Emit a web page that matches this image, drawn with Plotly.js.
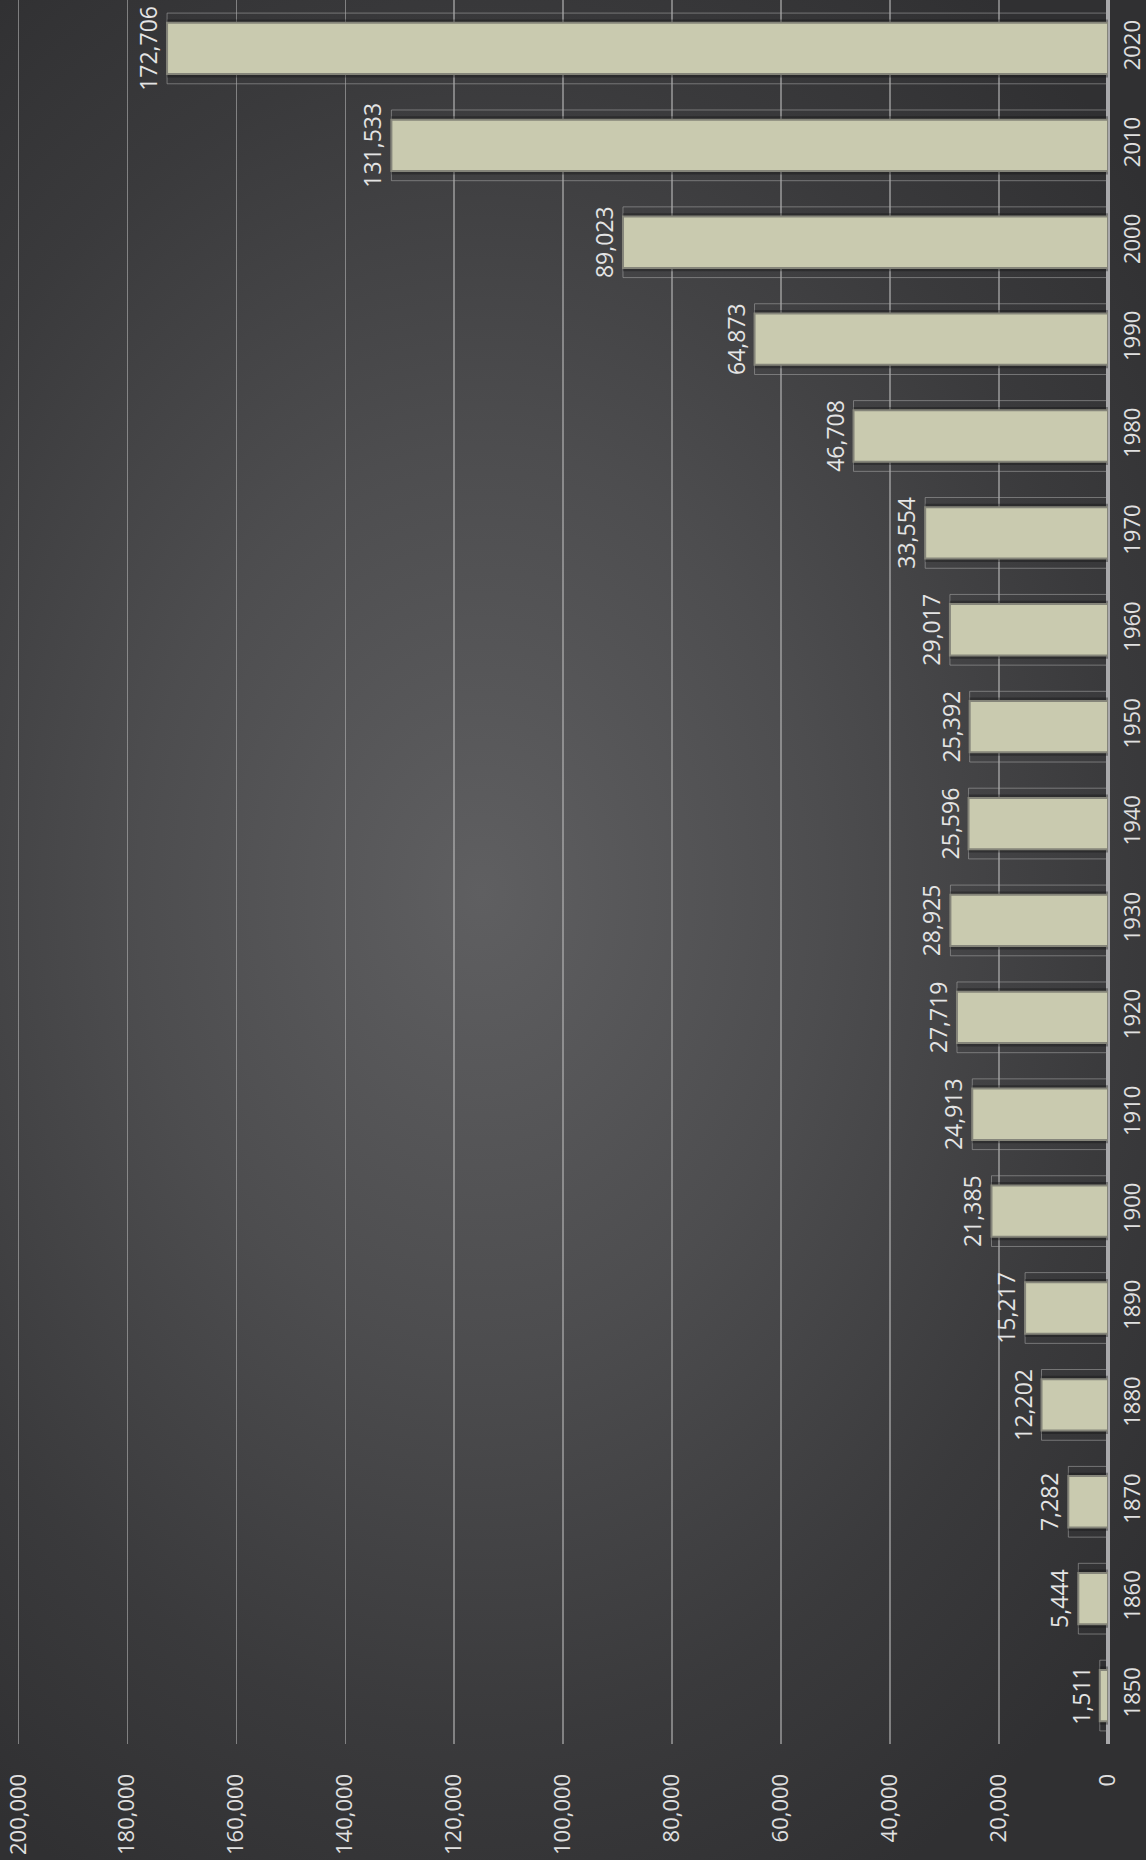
<!DOCTYPE html>
<html>
<head>
<meta charset="utf-8">
<script src="https://cdn.plot.ly/plotly-3.0.1.min.js"></script>
<style>
  html, body { margin: 0; padding: 0; }
  body {
    width: 1146px; height: 1860px; overflow: hidden;
    background: radial-gradient(ellipse 75% 60% at 42% 48%, #5f5f61 0%, #4d4d4f 40%, #3a3a3c 75%, #303032 100%);
  }
  #chart { width: 1146px; height: 1860px; }
</style>
</head>
<body>
<div id="chart"></div>
<script>
const years = ["1850","1860","1870","1880","1890","1900","1910","1920","1930","1940","1950","1960","1970","1980","1990","2000","2010","2020"];
const population = [1511, 5444, 7282, 12202, 15217, 21385, 24913, 27719, 28925, 25596, 25392, 29017, 33554, 46708, 64873, 89023, 131533, 172706];
const valueTicks = [0, 20000, 40000, 60000, 80000, 100000, 120000, 140000, 160000, 180000, 200000];

const labels = population.map(v => v.toLocaleString('en-US'));
const fontFamily = '"Open Sans", "Noto Sans", sans-serif';

const outerBox = {
  type: 'bar', orientation: 'h', y: years, x: population, width: 0.73,
  marker: { color: 'rgba(0,0,0,0)', line: { color: 'rgba(170,170,170,0.55)', width: 1 } },
  hoverinfo: 'skip', showlegend: false
};
const shadow = {
  type: 'bar', orientation: 'h', y: years, x: population, width: 0.6,
  marker: { color: 'rgba(15,15,15,0.35)', line: { width: 0 } },
  hoverinfo: 'skip', showlegend: false
};
const bars = {
  type: 'bar', orientation: 'h', y: years, x: population, width: 0.53,
  marker: { color: '#c9caaf', line: { color: '#85857a', width: 2 } },
  text: labels, textposition: 'outside', textangle: -90, constraintext: 'none', cliponaxis: false,
  textfont: { family: fontFamily, size: 23, color: '#e4e4e4' },
  hoverinfo: 'skip', showlegend: false
};

const layout = {
  width: 1146, height: 1860,
  margin: { l: 14, r: 38, t: 0, b: 116 },
  paper_bgcolor: 'rgba(0,0,0,0)', plot_bgcolor: 'rgba(0,0,0,0)',
  barmode: 'overlay',
  showlegend: false,
  font: { family: fontFamily, color: '#e0e0e0', size: 22 },
  xaxis: {
    range: [200800, 0], autorange: false,
    tickvals: valueTicks, ticktext: valueTicks.map(v => v.toLocaleString('en-US')),
    tickangle: -90, ticks: 'outside', ticklen: 20, tickcolor: 'rgba(0,0,0,0)',
    showgrid: true, gridcolor: 'rgba(190,190,190,0.55)', gridwidth: 1.5,
    zeroline: true, zerolinecolor: '#a9a9ab', zerolinewidth: 4,
    showline: false, automargin: false,
    tickfont: { family: fontFamily, size: 22, color: '#e0e0e0' }
  },
  yaxis: {
    type: 'category', side: 'right', categoryorder: 'array', categoryarray: years,
    tickangle: -90, ticks: 'outside', ticklen: 5, tickcolor: 'rgba(0,0,0,0)',
    showgrid: false, zeroline: false, showline: false, automargin: false,
    tickfont: { family: fontFamily, size: 22, color: '#e0e0e0' }
  }
};

Plotly.newPlot('chart', [outerBox, shadow, bars], layout, { staticPlot: true, displayModeBar: false });
</script>
</body>
</html>
